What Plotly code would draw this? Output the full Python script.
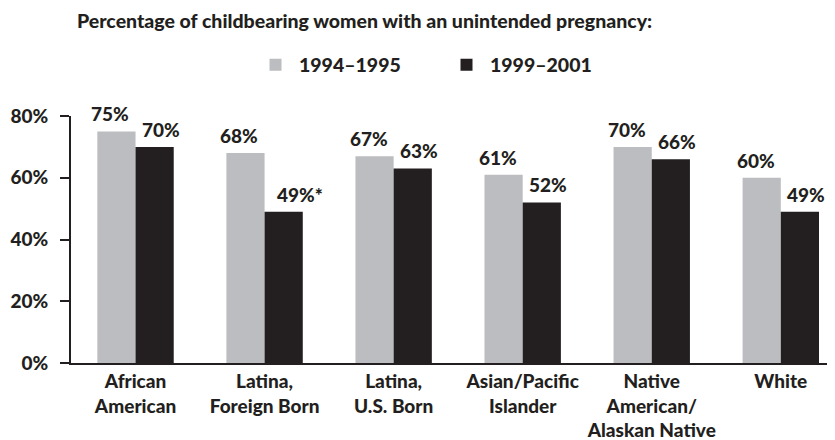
import plotly.graph_objects as go

categories = ["African<br>American", "Latina,<br>Foreign Born", "Latina,<br>U.S. Born",
              "Asian/Pacific<br>Islander", "Native<br>American/<br>Alaskan Native", "White"]
series_1994 = [75, 68, 67, 61, 70, 60]
series_1999 = [70, 49, 63, 52, 66, 49]
labels_1994 = ["75%", "68%", "67%", "61%", "70%", "60%"]
labels_1999 = ["70%", "49%*", "63%", "52%", "66%", "49%"]
ytick_vals = [0, 20, 40, 60, 80]
ytick_text = ["0%", "20%", "40%", "60%", "80%"]

GRAY = "#bcbdc0"
BLACK = "#231f20"
FONT = "Lato"
BW = 0.296
OFF = BW / 2

# page body has an 8px default margin; the figure is sized so it ends at the window edges
W, H = 827, 432

idx = list(range(len(categories)))
x_a = [i - OFF for i in idx]
x_b = [i + OFF for i in idx]

fig = go.Figure()
fig.add_trace(go.Bar(x=x_a, y=series_1994, width=BW, name="1994–1995",
                     marker=dict(color=GRAY, line=dict(width=0))))
fig.add_trace(go.Bar(x=x_b, y=series_1999, width=BW, name="1999–2001",
                     marker=dict(color=BLACK, line=dict(width=0))))

for xs, ys, ls, sh in [(x_a, series_1994, labels_1994, -6), (x_b, series_1999, labels_1999, 6)]:
    for x, y, l in zip(xs, ys, ls):
        fig.add_annotation(x=x, y=y, text=l, showarrow=False, xanchor="center",
                           yanchor="bottom", xshift=sh if not l.endswith("*") else sh + 10,
                           yshift=4, font=dict(family=FONT, size=19, color=BLACK,
                                                weight=900))

fig.update_layout(
    width=W, height=H,
    margin=dict(l=63, r=0, t=108, b=77, autoexpand=False),
    paper_bgcolor="white", plot_bgcolor="white",
    barmode="overlay",
    title=dict(text="Percentage of childbearing women with an unintended pregnancy:",
               x=69 / W, xanchor="left", xref="container",
               y=1 - 13 / H, yanchor="middle", yref="container",
               font=dict(family=FONT, size=19.5, color=BLACK, weight=900)),
    legend=dict(orientation="h", x=244 / W, xanchor="left", xref="container",
                y=1 - 57 / H, yanchor="middle", yref="container",
                font=dict(family=FONT, size=19.5, color=BLACK, weight=900),
                itemwidth=37, traceorder="normal", entrywidthmode="pixels", entrywidth=139),
    xaxis=dict(range=[-0.5, 5.42], tickmode="array", tickvals=idx, ticktext=categories,
               tickangle=0,
               showgrid=False, zeroline=False, showline=True, linecolor=BLACK, linewidth=2,
               ticks="", tickfont=dict(family=FONT, size=19, color=BLACK, weight=900),
               fixedrange=True, automargin=False),
    yaxis=dict(range=[0, 80], tickmode="array", tickvals=ytick_vals, ticktext=ytick_text,
               showgrid=False, zeroline=False, showline=True, linecolor=BLACK, linewidth=2,
               ticks="outside", ticklen=9, tickwidth=2, tickcolor=BLACK, ticklabelstandoff=8,
               tickfont=dict(family=FONT, size=19, color=BLACK, weight=900),
               fixedrange=True, automargin=False),
    showlegend=True,
)

fig.write_html("out.html")
